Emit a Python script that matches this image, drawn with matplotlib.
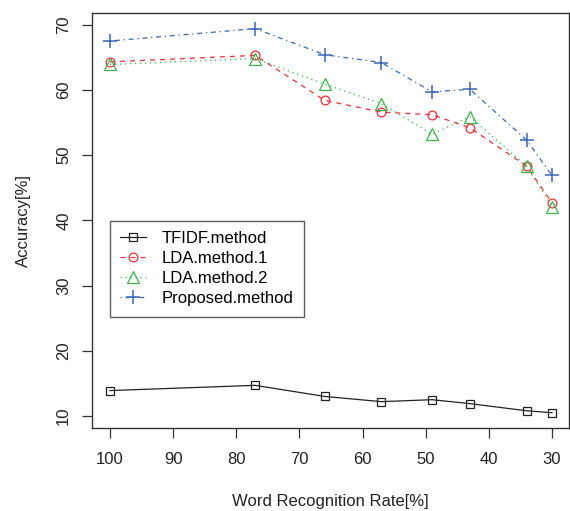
import matplotlib
matplotlib.use("Agg")
import matplotlib.pyplot as plt

plt.rcParams['font.family'] = ['Liberation Sans', 'DejaVu Sans']

word_rate = [100, 77, 66, 57, 49, 43, 34, 30]
tfidf = [13.9, 14.7, 13.0, 12.2, 12.5, 11.9, 10.8, 10.5]
lda1 = [64.3, 65.3, 58.4, 56.6, 56.2, 54.2, 48.3, 42.7]
lda2 = [63.9, 64.8, 60.9, 57.9, 53.2, 55.9, 48.3, 42.1]
proposed = [67.5, 69.4, 65.4, 64.2, 59.7, 60.1, 52.3, 46.9]

x_ticks = [100, 90, 80, 70, 60, 50, 40, 30]
y_ticks = [10, 20, 30, 40, 50, 60, 70]

fig = plt.figure(figsize=(5.70, 5.11), dpi=100)
ax = fig.add_axes([92/570, (511-428)/511, (569-92)/570, (428-13.5)/511])

lw = 0.9
ax.plot(word_rate, tfidf, color='#222222', lw=lw, ls='-', marker='s', ms=6,
        mfc='none', mec='#222222', mew=0.9, label='TFIDF.method')
ax.plot(word_rate, lda1, color='#E8303A', lw=lw, ls=(0, (4, 4)), marker='o', ms=6.3,
        mfc='none', mec='#E8303A', mew=0.9, label='LDA.method.1')
ax.plot(word_rate, lda2, color='#3CB44A', lw=lw, ls=(0, (1, 3)), marker='^', ms=8,
        mfc='none', mec='#3CB44A', mew=0.9, label='LDA.method.2')
ax.plot(word_rate, proposed, color='#3A68B8', lw=lw, ls=(0, (1, 3, 4, 3)), marker='+', ms=9.5,
        mec='#3A68B8', mew=1.1, label='Proposed.method')

ax.set_xlim(102.85, 27.3)
ax.set_ylim(8.16, 71.72)
ax.set_xticks(x_ticks)
ax.set_yticks(y_ticks)
ax.tick_params(direction='out', length=7, width=0.9, color='#333333', labelsize=12,
               labelcolor='#222222')
ax.tick_params(axis='x', pad=10)
ax.tick_params(axis='y', pad=8)
for lab in ax.get_yticklabels():
    lab.set_rotation(90)
    lab.set_va('center')
for s in ax.spines.values():
    s.set_linewidth(1.0)
    s.set_color('#333333')

ax.set_xlabel('Word Recognition Rate[%]', fontsize=12, color='#222222', labelpad=20)
ax.set_ylabel('Accuracy[%]', fontsize=12, color='#222222', labelpad=18)

leg = ax.legend(loc='upper left', bbox_to_anchor=(0.0377, 0.4994), fontsize=12,
                frameon=True, fancybox=False, handlelength=1.55, handletextpad=0.95,
                borderpad=0.62, labelspacing=0.3, borderaxespad=0)
leg.get_frame().set_edgecolor('#333333')
leg.get_frame().set_linewidth(1.0)

fig.savefig('out.png', dpi=100)
